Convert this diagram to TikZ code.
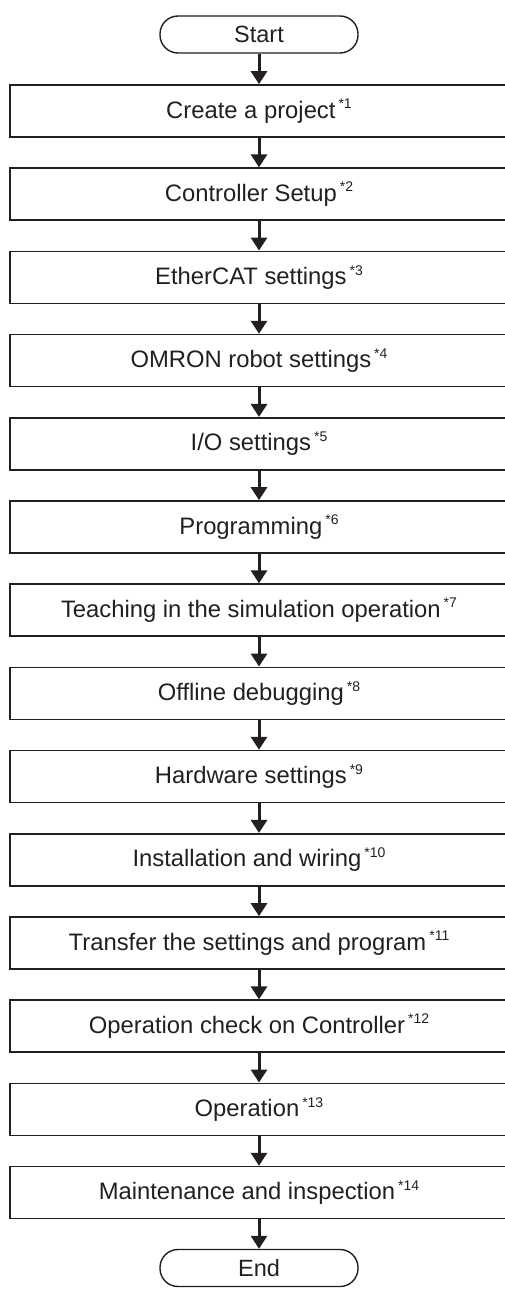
\documentclass[tikz,border=0pt]{standalone}
\usepackage{fontspec}
\setmainfont{Liberation Sans}
\usepackage{tikz}
\usetikzlibrary{arrows.meta}
\definecolor{ink}{HTML}{231F20}
\newcommand{\fnote}[1]{\hspace{3pt}\raisebox{0.4em}{\fontsize{14}{15}\selectfont *#1}}

\begin{document}
\begin{tikzpicture}[x=1pt,y=-1pt,
  term/.style={draw=ink,line width=1.4pt,rounded corners=18pt,minimum width=198pt,minimum height=37pt,inner sep=0pt,text=ink,font=\fontsize{23.5}{27}\selectfont},
  stepbox/.style={draw=ink,line width=1.7pt,minimum width=498pt,minimum height=52pt,inner sep=0pt,text=ink,font=\fontsize{23.8}{27}\selectfont},
  flow/.style={draw=ink,line width=3pt,-{Triangle[width=16pt,length=13pt]}}]

\useasboundingbox (0,0) rectangle (505,1290);
\clip (0,0) rectangle (505,1290);

\node[term] (st) at (259,34.5) {Start};

\node[stepbox] (s1) at (259,111) {Create a project\fnote{1}};
\node[stepbox] (s2) at (259,194.2) {Controller Setup\fnote{2}};
\node[stepbox] (s3) at (259,277.4) {EtherCAT settings\fnote{3}};
\node[stepbox] (s4) at (259,360.6) {OMRON robot settings\fnote{4}};
\node[stepbox] (s5) at (259,443.8) {I/O settings\fnote{5}};
\node[stepbox] (s6) at (259,527) {Programming\fnote{6}};
\node[stepbox] (s7) at (259,610.2) {Teaching in the simulation operation\fnote{7}};
\node[stepbox] (s8) at (259,693.4) {Offline debugging\fnote{8}};
\node[stepbox] (s9) at (259,776.6) {Hardware settings\fnote{9}};
\node[stepbox] (s10) at (259,859.8) {Installation and wiring\fnote{10}};
\node[stepbox] (s11) at (259,943) {Transfer the settings and program\fnote{11}};
\node[stepbox] (s12) at (259,1026.2) {Operation check on Controller\fnote{12}};
\node[stepbox] (s13) at (259,1109.4) {Operation\fnote{13}};
\node[stepbox] (s14) at (259,1192.6) {Maintenance and inspection\fnote{14}};

\node[term] (en) at (259,1268) {End};

\draw[flow] (st) -- (s1);
\draw[flow] (s1) -- (s2);
\draw[flow] (s2) -- (s3);
\draw[flow] (s3) -- (s4);
\draw[flow] (s4) -- (s5);
\draw[flow] (s5) -- (s6);
\draw[flow] (s6) -- (s7);
\draw[flow] (s7) -- (s8);
\draw[flow] (s8) -- (s9);
\draw[flow] (s9) -- (s10);
\draw[flow] (s10) -- (s11);
\draw[flow] (s11) -- (s12);
\draw[flow] (s12) -- (s13);
\draw[flow] (s13) -- (s14);
\draw[flow] (s14) -- (en);

\end{tikzpicture}
\end{document}
